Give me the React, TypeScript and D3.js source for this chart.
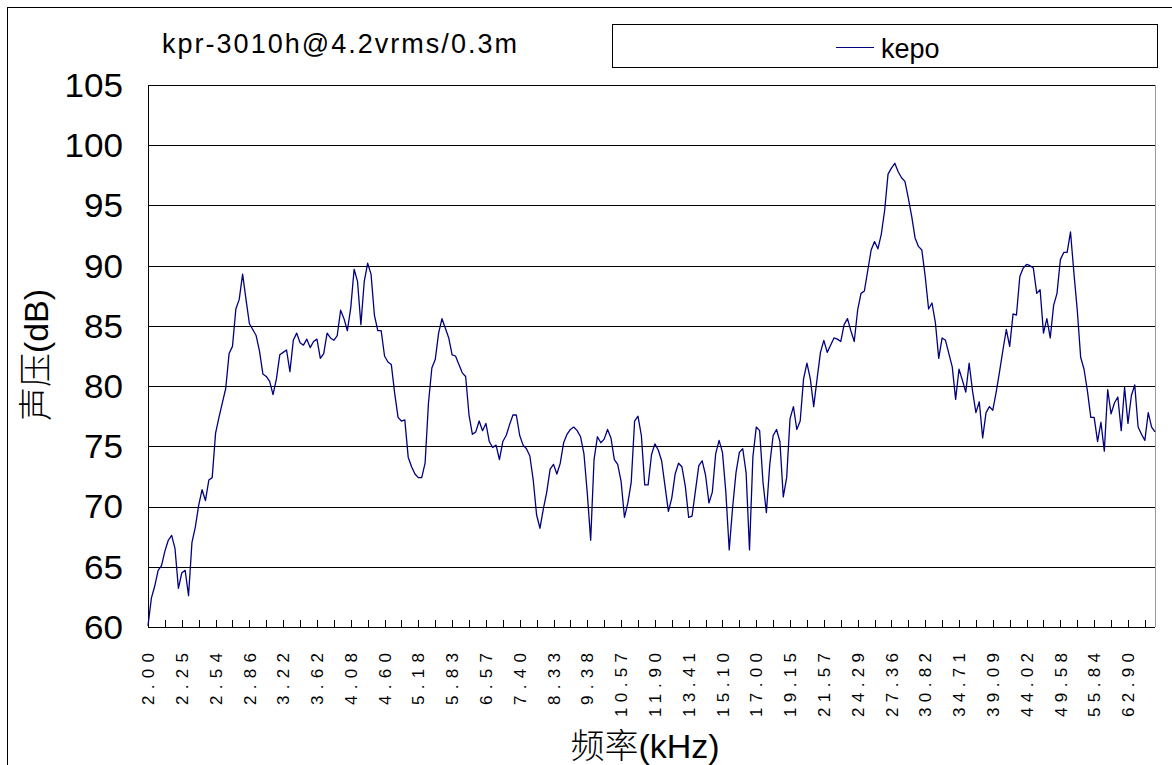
import React, { useEffect, useRef } from "react";
import * as d3 from "d3";

const chartTitle = "kpr-3010h@4.2vrms/0.3m";
const seriesName = "kepo";
const yTitle = "声压(dB)";
const xTitle = "频率(kHz)";

// every 10th point gets a label
const freqLabels = [
  "2.00", "2.25", "2.54", "2.86", "3.22", "3.62", "4.08", "4.60", "5.18", "5.83",
  "6.57", "7.40", "8.33", "9.38", "10.57", "11.90", "13.41", "15.10", "17.00", "19.15",
  "21.57", "24.29", "27.36", "30.82", "34.71", "39.09", "44.02", "49.58", "55.84", "62.90",
];
const yTicks = [60, 65, 70, 75, 80, 85, 90, 95, 100, 105];

// SPL in dB, one value per measured frequency
const splValues = [
  60.1, 62.4, 63.4, 64.7, 65.1, 66.3, 67.2, 67.6, 66.5, 63.2,
  64.5, 64.7, 62.6, 67.0, 68.3, 70.1, 71.4, 70.5, 72.2, 72.4,
  76.1, 77.4, 78.6, 79.8, 82.7, 83.3, 86.4, 87.2, 89.3, 87.2,
  85.2, 84.7, 84.2, 82.9, 81.0, 80.8, 80.4, 79.3, 80.6, 82.6,
  82.8, 83.0, 81.2, 83.8, 84.4, 83.6, 83.4, 83.9, 83.2, 83.7,
  83.9, 82.3, 82.7, 84.4, 84.0, 83.8, 84.2, 86.3, 85.6, 84.6,
  86.5, 89.7, 88.7, 85.1, 88.7, 90.2, 89.3, 85.9, 84.6, 84.6,
  82.5, 82.0, 81.8, 79.4, 77.4, 77.1, 77.2, 74.1, 73.3, 72.7,
  72.4, 72.4, 73.6, 78.6, 81.5, 82.2, 84.4, 85.6, 84.8, 84.0,
  82.6, 82.5, 81.8, 81.1, 80.8, 77.6, 76.0, 76.2, 77.1, 76.3,
  76.9, 75.4, 74.9, 75.1, 73.9, 75.4, 75.9, 76.8, 77.6, 77.6,
  75.9, 75.1, 74.8, 74.2, 72.2, 69.3, 68.2, 69.8, 71.2, 73.1,
  73.5, 72.7, 73.6, 75.3, 76.0, 76.4, 76.6, 76.3, 75.8, 74.4,
  71.1, 67.2, 73.9, 75.8, 75.3, 75.6, 76.4, 75.7, 73.9, 73.5,
  72.1, 69.1, 70.3, 72.0, 77.1, 77.5, 75.9, 71.8, 71.8, 74.3,
  75.2, 74.7, 73.8, 71.7, 69.6, 70.7, 72.7, 73.6, 73.3, 71.7,
  69.1, 69.2, 71.3, 73.4, 73.8, 72.6, 70.3, 71.2, 74.4, 75.5,
  74.5, 71.2, 66.4, 69.9, 72.8, 74.5, 74.8, 72.8, 66.4, 74.1,
  76.6, 76.3, 72.0, 69.5, 73.5, 75.9, 76.4, 75.4, 70.8, 72.4,
  77.3, 78.3, 76.4, 77.1, 80.6, 81.9, 80.6, 78.3, 80.6, 82.8,
  83.8, 82.8, 83.4, 84.0, 83.9, 83.7, 85.1, 85.6, 84.6, 83.7,
  86.3, 87.7, 87.9, 89.6, 91.3, 92.0, 91.4, 92.6, 94.6, 97.6,
  98.1, 98.5, 97.8, 97.3, 97.0, 95.6, 94.1, 92.3, 91.6, 91.3,
  89.1, 86.4, 86.9, 85.3, 82.3, 84.0, 83.8, 82.7, 81.6, 78.9,
  81.4, 80.5, 79.5, 81.9, 79.6, 77.8, 78.7, 75.7, 77.8, 78.3,
  78.0, 79.5, 81.2, 83.0, 84.7, 83.3, 86.0, 85.9, 89.1, 89.8,
  90.1, 90.0, 89.8, 87.7, 88.0, 84.4, 85.6, 84.0, 86.7, 87.7,
  90.5, 91.1, 91.1, 92.8, 89.4, 86.3, 82.4, 81.4, 79.6, 77.4,
  77.4, 75.4, 77.0, 74.6, 79.7, 77.7, 78.6, 79.1, 76.3, 79.9,
  76.9, 79.2, 80.1, 76.6, 76.0, 75.5, 77.8, 76.6, 76.2,
];

const FONT = "'Liberation Sans', Arial, 'Noto Sans CJK SC', sans-serif";

export default function App() {
  const svgRef = useRef<SVGSVGElement>(null);

  useEffect(() => {
    const svg = d3.select(svgRef.current);
    svg.selectAll("*").remove();

    const left = 148, right = 1155, top = 85, bottom = 627;
    const x = d3.scaleLinear().domain([0, splValues.length - 1]).range([left, right]);
    const y = d3.scaleLinear().domain([60, 105]).range([bottom, top]);
    const crisp = (v: number) => Math.round(v) + 0.5;

    // outer chart border
    svg.append("rect")
      .attr("x", 7.5).attr("y", 7.5)
      .attr("width", 1200).attr("height", 800)
      .attr("fill", "#fff").attr("stroke", "#000");

    // title
    svg.append("text")
      .attr("x", 162).attr("y", 53)
      .attr("font-family", FONT).attr("font-size", 27)
      .attr("textLength", 355).attr("lengthAdjust", "spacing")
      .text(chartTitle);

    // legend
    svg.append("rect")
      .attr("x", 612.5).attr("y", 24.5)
      .attr("width", 545).attr("height", 43)
      .attr("fill", "#fff").attr("stroke", "#000");
    svg.append("line")
      .attr("x1", 836).attr("x2", 874).attr("y1", 47.5).attr("y2", 47.5)
      .attr("stroke", "#000080").attr("stroke-width", 1);
    svg.append("text")
      .attr("x", 881).attr("y", 58)
      .attr("font-family", FONT).attr("font-size", 27)
      .text(seriesName);

    // grid lines
    svg.append("g").selectAll("line")
      .data(yTicks)
      .join("line")
      .attr("x1", left).attr("x2", right)
      .attr("y1", (d) => crisp(y(d))).attr("y2", (d) => crisp(y(d)))
      .attr("stroke", "#000").attr("stroke-width", 1);

    // right edge of plot
    svg.append("line")
      .attr("x1", crisp(right)).attr("x2", crisp(right))
      .attr("y1", top).attr("y2", bottom)
      .attr("stroke", "#999");

    // y tick labels
    svg.append("g").selectAll("text")
      .data(yTicks)
      .join("text")
      .attr("x", 123).attr("y", (d) => y(d))
      .attr("dy", "0.36em")
      .attr("text-anchor", "end")
      .attr("font-family", FONT).attr("font-size", 33)
      .attr("textLength", (d) => String(d).length * 19.5)
      .attr("lengthAdjust", "spacingAndGlyphs")
      .text((d) => d);

    // x ticks every 5 points
    const tickIdx = d3.range(5, splValues.length, 5);
    svg.append("g").selectAll("line")
      .data(tickIdx)
      .join("line")
      .attr("x1", (d) => crisp(x(d))).attr("x2", (d) => crisp(x(d)))
      .attr("y1", bottom).attr("y2", bottom - 7)
      .attr("stroke", "#000");

    // x tick labels (rotated)
    svg.append("g").selectAll("text")
      .data(freqLabels)
      .join("text")
      .attr("transform", (d, i) => `translate(${x(i * 10)},653) rotate(-90)`)
      .attr("dy", "0.36em")
      .attr("text-anchor", "end")
      .attr("font-family", FONT).attr("font-size", 17)
      .attr("textLength", (d) => (d.length === 4 ? 52 : 64))
      .attr("lengthAdjust", "spacing")
      .text((d) => d);

    // axes
    svg.append("line")
      .attr("x1", crisp(left)).attr("x2", crisp(left))
      .attr("y1", top).attr("y2", bottom + 1)
      .attr("stroke", "#000");
    svg.append("line")
      .attr("x1", left).attr("x2", right)
      .attr("y1", crisp(bottom)).attr("y2", crisp(bottom))
      .attr("stroke", "#000");

    // data line
    const line = d3.line<number>()
      .x((d, i) => x(i))
      .y((d) => y(d));
    svg.append("path")
      .datum(splValues)
      .attr("d", line)
      .attr("fill", "none")
      .attr("stroke", "#000080")
      .attr("stroke-width", 1.3)
      .attr("stroke-linejoin", "round");

    // axis titles
    svg.append("text")
      .attr("transform", "translate(36,355) rotate(-90)")
      .attr("dy", "0.36em")
      .attr("text-anchor", "middle")
      .attr("font-family", FONT).attr("font-size", 34).attr("font-weight", 300)
      .text(yTitle);
    svg.append("text")
      .attr("x", 645).attr("y", 758)
      .attr("text-anchor", "middle")
      .attr("font-family", FONT).attr("font-size", 34).attr("font-weight", 300)
      .text(xTitle);
  }, []);

  return (
    <svg
      ref={svgRef}
      width={1172}
      height={765}
      style={{ position: "absolute", left: 0, top: 0, background: "#fff" }}
    />
  );
}
